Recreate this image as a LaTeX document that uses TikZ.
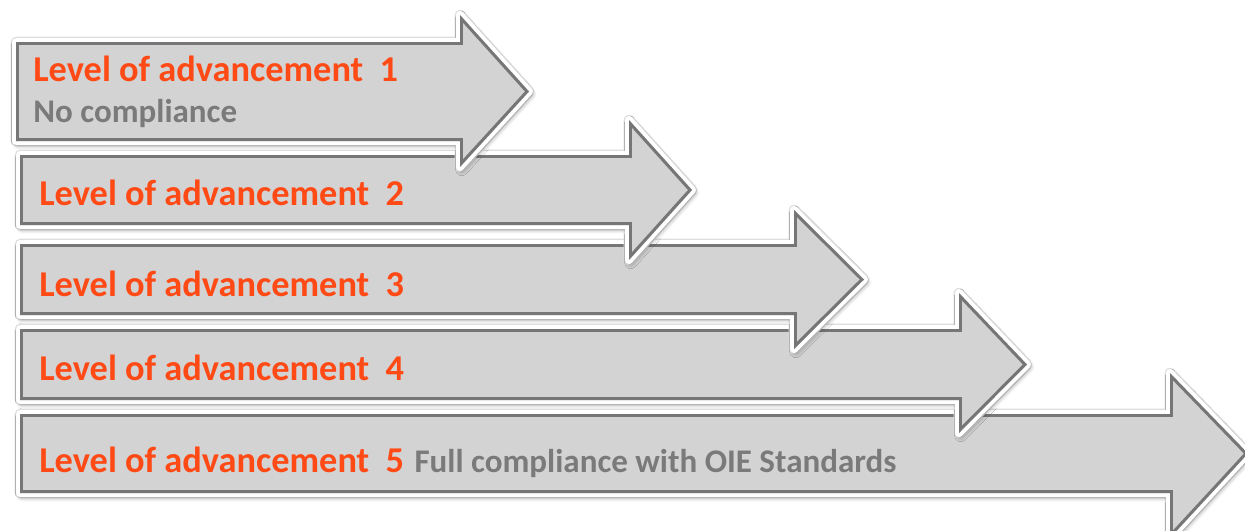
\documentclass[tikz,border=0pt]{standalone}
\usepackage{fontspec}
\setmainfont{Carlito}
\usetikzlibrary{positioning,shadows.blur}
\definecolor{lvlorange}{RGB}{255,74,22}
\definecolor{lvlgray}{RGB}{122,122,122}
\definecolor{lvlfill}{RGB}{211,211,211}
\definecolor{lvledge}{RGB}{118,118,118}
\definecolor{lvlhalo}{RGB}{222,222,222}
\tikzset{
  lvlrim/.style={draw=white, fill=white, line width=4.5pt, line join=round,
    preaction={draw=lvlhalo, line width=6pt, line join=round},
    blur shadow={shadow xshift=1pt, shadow yshift=-1.5pt, shadow blur radius=3.5pt, shadow blur steps=8, shadow opacity=55}},
  lvltext/.style={text=lvlorange, font=\fontsize{20.7}{22}\selectfont\bfseries, inner sep=0pt},
  subtext/.style={text=lvlgray, font=\fontsize{18.8}{20}\selectfont\bfseries, inner sep=0pt}
}
\begin{document}
\begin{tikzpicture}[x=0.02cm,y=-0.02cm]
	\useasboundingbox (0,0) rectangle (1245,531);
	% arrows, last one first so that the upper heads lie on top
	\foreach \lx/\ty/\by/\hx/\hty/\hby/\tipx in {20/414/493/1170/373/538/1248,
	                                        20/329/400/959/293/433/1027,
	                                        20/244/315/794/210/349/864,
	                                        20/155/225/629/120/260/692,
	                                        16/42/141/460/15/167/529}{
		\path[lvlrim] (\lx,\ty) -- (\hx,\ty) -- (\hx,\hty) -- (\tipx,{(\ty+\by)/2}) -- (\hx,\hby) -- (\hx,\by) -- (\lx,\by) -- cycle;
		\fill[lvlfill] (\lx,\ty) -- (\hx,\ty) -- (\hx,\hty) -- (\tipx,{(\ty+\by)/2}) -- (\hx,\hby) -- (\hx,\by) -- (\lx,\by) -- cycle;
		\begin{scope}
			\clip (\lx,\ty) -- (\hx,\ty) -- (\hx,\hty) -- (\tipx,{(\ty+\by)/2}) -- (\hx,\hby) -- (\hx,\by) -- (\lx,\by) -- cycle;
			\draw[lvledge, line width=3.4pt] (\lx,\ty) -- (\hx,\ty) -- (\hx,\hty) -- (\tipx,{(\ty+\by)/2}) -- (\hx,\hby) -- (\hx,\by) -- (\lx,\by) -- cycle;
		\end{scope}
	}
	% labels
	\node[lvltext, anchor=base west] (lvl1) at (33,81) {Level of advancement\ \ 1};
	\node[subtext, anchor=base west] (none) at (33,122) {No compliance};
	\node[lvltext, anchor=base west] (lvl2) at (39,205) {Level of advancement\ \ 2};
	\node[lvltext, anchor=base west] (lvl3) at (39,296) {Level of advancement\ \ 3};
	\node[lvltext, anchor=base west] (lvl4) at (39,380) {Level of advancement\ \ 4};
	\node[lvltext, anchor=base west] (lvl5) at (39,472) {Level of advancement\ \ 5};
	\node[subtext, anchor=base west] (full) at ([xshift=5.5pt]lvl5.base east) {Full compliance with OIE Standards};
\end{tikzpicture}
\end{document}
